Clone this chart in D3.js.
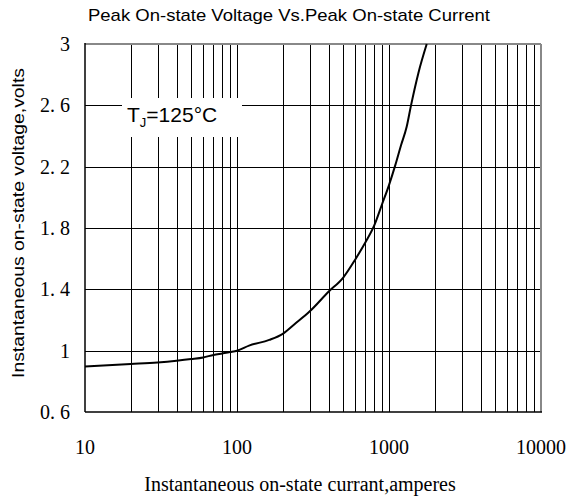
<!DOCTYPE html>
<html><head><meta charset="utf-8">
<script src="https://cdn.jsdelivr.net/npm/d3@7"></script>
<style>body{margin:0;background:#fff}</style>
</head><body>
<script>
const currentA = [10, 20, 30, 40, 50, 60, 70, 80, 90, 100, 120, 163, 200, 244, 300, 400, 500, 600, 700, 800, 900, 1000, 1100, 1200, 1307, 1396, 1560, 1771];
const voltageV = [0.897, 0.913, 0.923, 0.934, 0.945, 0.956, 0.972, 0.982, 0.991, 1.0, 1.033, 1.07, 1.11, 1.18, 1.255, 1.384, 1.477, 1.595, 1.707, 1.817, 1.955, 2.08, 2.21, 2.34, 2.46, 2.6, 2.81, 3.0];
const xTicks = [10, 100, 1000, 10000];
const yTicks = [0.6, 1, 1.4, 1.8, 2.2, 2.6, 3];
const yTickLabels = ["0. 6", "1", "1. 4", "1. 8", "2. 2", "2. 6", "3"];
const titleText = "Peak On-state Voltage Vs.Peak On-state Current";
const xTitle = "Instantaneous on-state currant,amperes";
const yTitle = "Instantaneous on-state voltage,volts";

const W = 571, H = 500;
const L = 85, R = 541, T = 44, B = 412;
const svg = d3.select("body").append("svg").attr("width", W).attr("height", H);
const x = d3.scaleLog().domain([10, 10000]).range([L, R]);
const y = d3.scaleLinear().domain([0.6, 3]).range([B, T]);

// vertical grid (log minor + decades)
const minor = [];
for (let d = 10; d < 10000; d *= 10) for (let k = 2; k <= 9; k++) minor.push(d * k);
const g = svg.append("g");
g.selectAll(".vx").data(minor.concat([100, 1000])).join("line")
  .attr("x1", d => Math.round(x(d)) + 0.5).attr("x2", d => Math.round(x(d)) + 0.5)
  .attr("y1", T).attr("y2", B).attr("stroke", "#000").attr("stroke-width", 1);
g.selectAll(".hy").data(yTicks.slice(1, -1)).join("line")
  .attr("x1", L).attr("x2", R)
  .attr("y1", d => Math.round(y(d)) + 0.5).attr("y2", d => Math.round(y(d)) + 0.5)
  .attr("stroke", "#000").attr("stroke-width", 1);

// border
svg.append("line").attr("x1", L).attr("x2", R).attr("y1", T).attr("y2", T).attr("stroke", "#888").attr("stroke-width", 2);
svg.append("line").attr("x1", R).attr("x2", R).attr("y1", T).attr("y2", B).attr("stroke", "#888").attr("stroke-width", 2);
svg.append("line").attr("x1", L).attr("x2", L).attr("y1", T - 1).attr("y2", B).attr("stroke", "#000").attr("stroke-width", 1.5);
svg.append("line").attr("x1", L).attr("x2", R + 1).attr("y1", B).attr("y2", B).attr("stroke", "#000").attr("stroke-width", 1.5);

// annotation box
svg.append("rect").attr("x", 122).attr("y", 98).attr("width", 120).attr("height", 39).attr("fill", "#fff");
const ann = svg.append("text").attr("x", 127).attr("y", 122).attr("font-family", "Liberation Sans, Arial, sans-serif").attr("font-size", 21).attr("fill", "#000");
ann.append("tspan").text("T");
ann.append("tspan").attr("font-size", 13).attr("dy", 5).text("J");
ann.append("tspan").attr("dy", -5).text("=125°C");

// curve
const line = d3.line().x(d => x(d[0])).y(d => y(d[1])).curve(d3.curveMonotoneX);
svg.append("path").datum(currentA.map((c, i) => [c, voltageV[i]]))
  .attr("d", line).attr("fill", "none").attr("stroke", "#000").attr("stroke-width", 2);

// tick labels
svg.selectAll(".yl").data(yTicks).join("text")
  .attr("x", 70).attr("y", d => y(d) + 7).attr("text-anchor", "end")
  .attr("font-family", "Liberation Serif, Times New Roman, serif").attr("font-size", 20)
  .text((d, i) => yTickLabels[i]);
svg.selectAll(".xl").data(xTicks).join("text")
  .attr("x", d => x(d)).attr("y", 454).attr("text-anchor", "middle")
  .attr("font-family", "Liberation Serif, Times New Roman, serif").attr("font-size", 20)
  .text(d => d);

// titles
svg.append("text").attr("x", 289).attr("y", 21).attr("text-anchor", "middle")
  .attr("font-family", "Liberation Sans, Arial, sans-serif").attr("font-size", 17)
  .attr("textLength", 402).attr("lengthAdjust", "spacingAndGlyphs")
  .text(titleText);
svg.append("text").attr("x", 300).attr("y", 491).attr("text-anchor", "middle")
  .attr("font-family", "Liberation Serif, Times New Roman, serif").attr("font-size", 20)
  .text(xTitle);
svg.append("text").attr("transform", "translate(24,378) rotate(-90)").attr("text-anchor", "start")
  .attr("font-family", "Liberation Sans, Arial, sans-serif").attr("font-size", 17)
  .attr("textLength", 310).attr("lengthAdjust", "spacingAndGlyphs")
  .text(yTitle);
</script>
</body></html>
